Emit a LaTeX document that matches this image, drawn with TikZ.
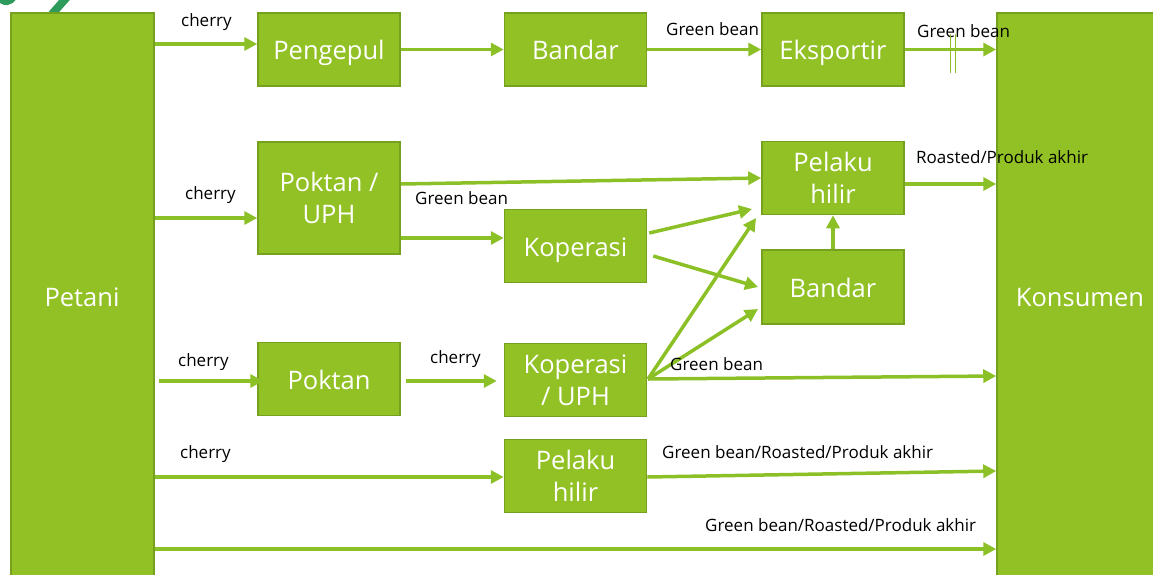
\documentclass[tikz,border=0pt]{standalone}
\usepackage{fontspec}
\setmainfont{Open Sans}
\usetikzlibrary{arrows.meta,calc}
\definecolor{gfill}{HTML}{92C126}
\definecolor{gdraw}{HTML}{76A11E}
\definecolor{garrow}{HTML}{8CC027}
\definecolor{logo}{HTML}{2E9A5C}
\begin{document}
\begin{tikzpicture}[x=1pt,y=-1pt,
 box/.style={draw=gdraw, line width=1.5pt, fill=gfill, text=white, font=\fontsize{25.5}{32}\selectfont, align=center, inner sep=0pt, minimum width=142pt, minimum height=73pt},
 oneline/.style={text height=23pt, text depth=3pt},
 big/.style={draw=gdraw, line width=1.5pt, fill=gfill, inner sep=0pt, minimum width=143pt, minimum height=600pt, anchor=north},
 bigtxt/.style={text=white, font=\fontsize{25.5}{32}\selectfont, inner sep=0pt, text height=23pt, text depth=3pt},
 arr/.style={draw=garrow, line width=3.5pt, -{Triangle[length=13pt,width=13pt]}},
 lbl/.style={font=\fontsize{17}{20}\selectfont, inner sep=0pt, text=black, anchor=west},
 tick/.style={draw=garrow, line width=1.3pt}]
\useasboundingbox (0,0) rectangle (1153,574);
\clip (0,0) rectangle (1153,574);
% logo fragment
\draw[logo, line width=7pt, line cap=round] (-2,-4) .. controls (4,4) and (10,3) .. (14,-4);
\draw[logo, line width=8pt] (52,14) -- (68,-4);
% big boxes
\node[big] (petani) at (82.5,12) {};
\node[bigtxt] (petanitxt) at (82,296) {Petani};
\node[big, minimum width=170pt] (konsumen) at (1082,12) {};
\node[bigtxt] (konsumentxt) at (1080,296) {Konsumen};
% boxes
\node[box, oneline] (pengepul) at (329,49.5) {Pengepul};
\node[box, oneline] (bandar1) at (575.5,49.5) {Bandar};
\node[box, oneline] (eksportir) at (833,49.5) {Eksportir};
\node[box, minimum height=112pt] (poktanuph) at (329,198) {Poktan /\\UPH};
\node[box] (hilir1) at (833,178) {Pelaku\\hilir};
\node[box, oneline] (koperasi) at (575.5,246) {Koperasi};
\node[box, oneline, minimum height=74pt] (bandar2) at (833,287) {Bandar};
\node[box, oneline] (poktan) at (329,379) {Poktan};
\node[box] (kopuph) at (575.5,380) {Koperasi\\/ UPH};
\node[box] (hilir2) at (575.5,476) {Pelaku\\hilir};
% row 1
\draw[arr] (petani.east |- 0,44) -- (pengepul.west |- 0,44);
\node[lbl] (l1) at (181,22) {cherry};
\draw[arr] (pengepul.east) -- (bandar1.west);
\draw[arr] (bandar1.east) -- (eksportir.west);
\node[lbl] (l2) at (666,29) {Green bean};
\draw[arr] (eksportir.east) -- (konsumen.west |- eksportir.east);
\node[lbl] (l3) at (917,31) {Green bean};
\coordinate (t1) at (950.5,34);
\coordinate (t2) at (955.5,34);
\draw[tick] (t1) -- ++(0,39);
\draw[tick] (t2) -- ++(0,39);
% row 2
\draw[arr] (petani.east |- 0,218) -- (poktanuph.west |- 0,218);
\node[lbl] (l4) at (185,195) {cherry};
\draw[arr] (poktanuph.east |- 0,184) -- (hilir1.west);
\node[lbl] (l5) at (415,198) {Green bean};
\draw[arr] (poktanuph.east |- 0,238) -- (koperasi.west |- 0,238);
\draw[arr] ($(koperasi.east)+(2,-13)$) -- (752,209);
\draw[arr] ($(koperasi.east)+(6,10)$) -- (758,287);
\draw[arr] (bandar2.north) -- (hilir1.south);
\draw[arr] (hilir1.east |- 0,184) -- (konsumen.west |- 0,184);
\node[lbl] (l6) at (916,157) {Roasted/Produk akhir};
% row 3
\draw[arr, shorten <=4pt, shorten >=-6pt] (petani.east |- 0,381) -- (poktan.west |- 0,381);
\node[lbl] (l7) at (178,362) {cherry};
\draw[arr, shorten <=5pt, shorten >=7pt] (poktan.east |- 0,381) -- (kopuph.west |- 0,381);
\node[lbl] (l8) at (430,359) {cherry};
\coordinate (k) at (648,379);
\draw[arr] (k) -- (756,218);
\draw[arr] (k) -- (758,309);
\draw[arr] (k) -- (konsumen.west |- 0,376);
\node[lbl] (l9) at (670,364) {Green bean};
% row 4
\draw[arr] (petani.east |- 0,477) -- (hilir2.west |- 0,477);
\node[lbl] (l10) at (180,454) {cherry};
\draw[arr] (hilir2.east |- 0,477) -- (konsumen.west |- 0,471);
\node[lbl] (l11) at (662,452) {Green bean/Roasted/Produk akhir};
% row 5
\draw[arr] (petani.east |- 0,549) -- (konsumen.west |- 0,549);
\node[lbl] (l12) at (705,525) {Green bean/Roasted/Produk akhir};
\end{tikzpicture}
\end{document}
